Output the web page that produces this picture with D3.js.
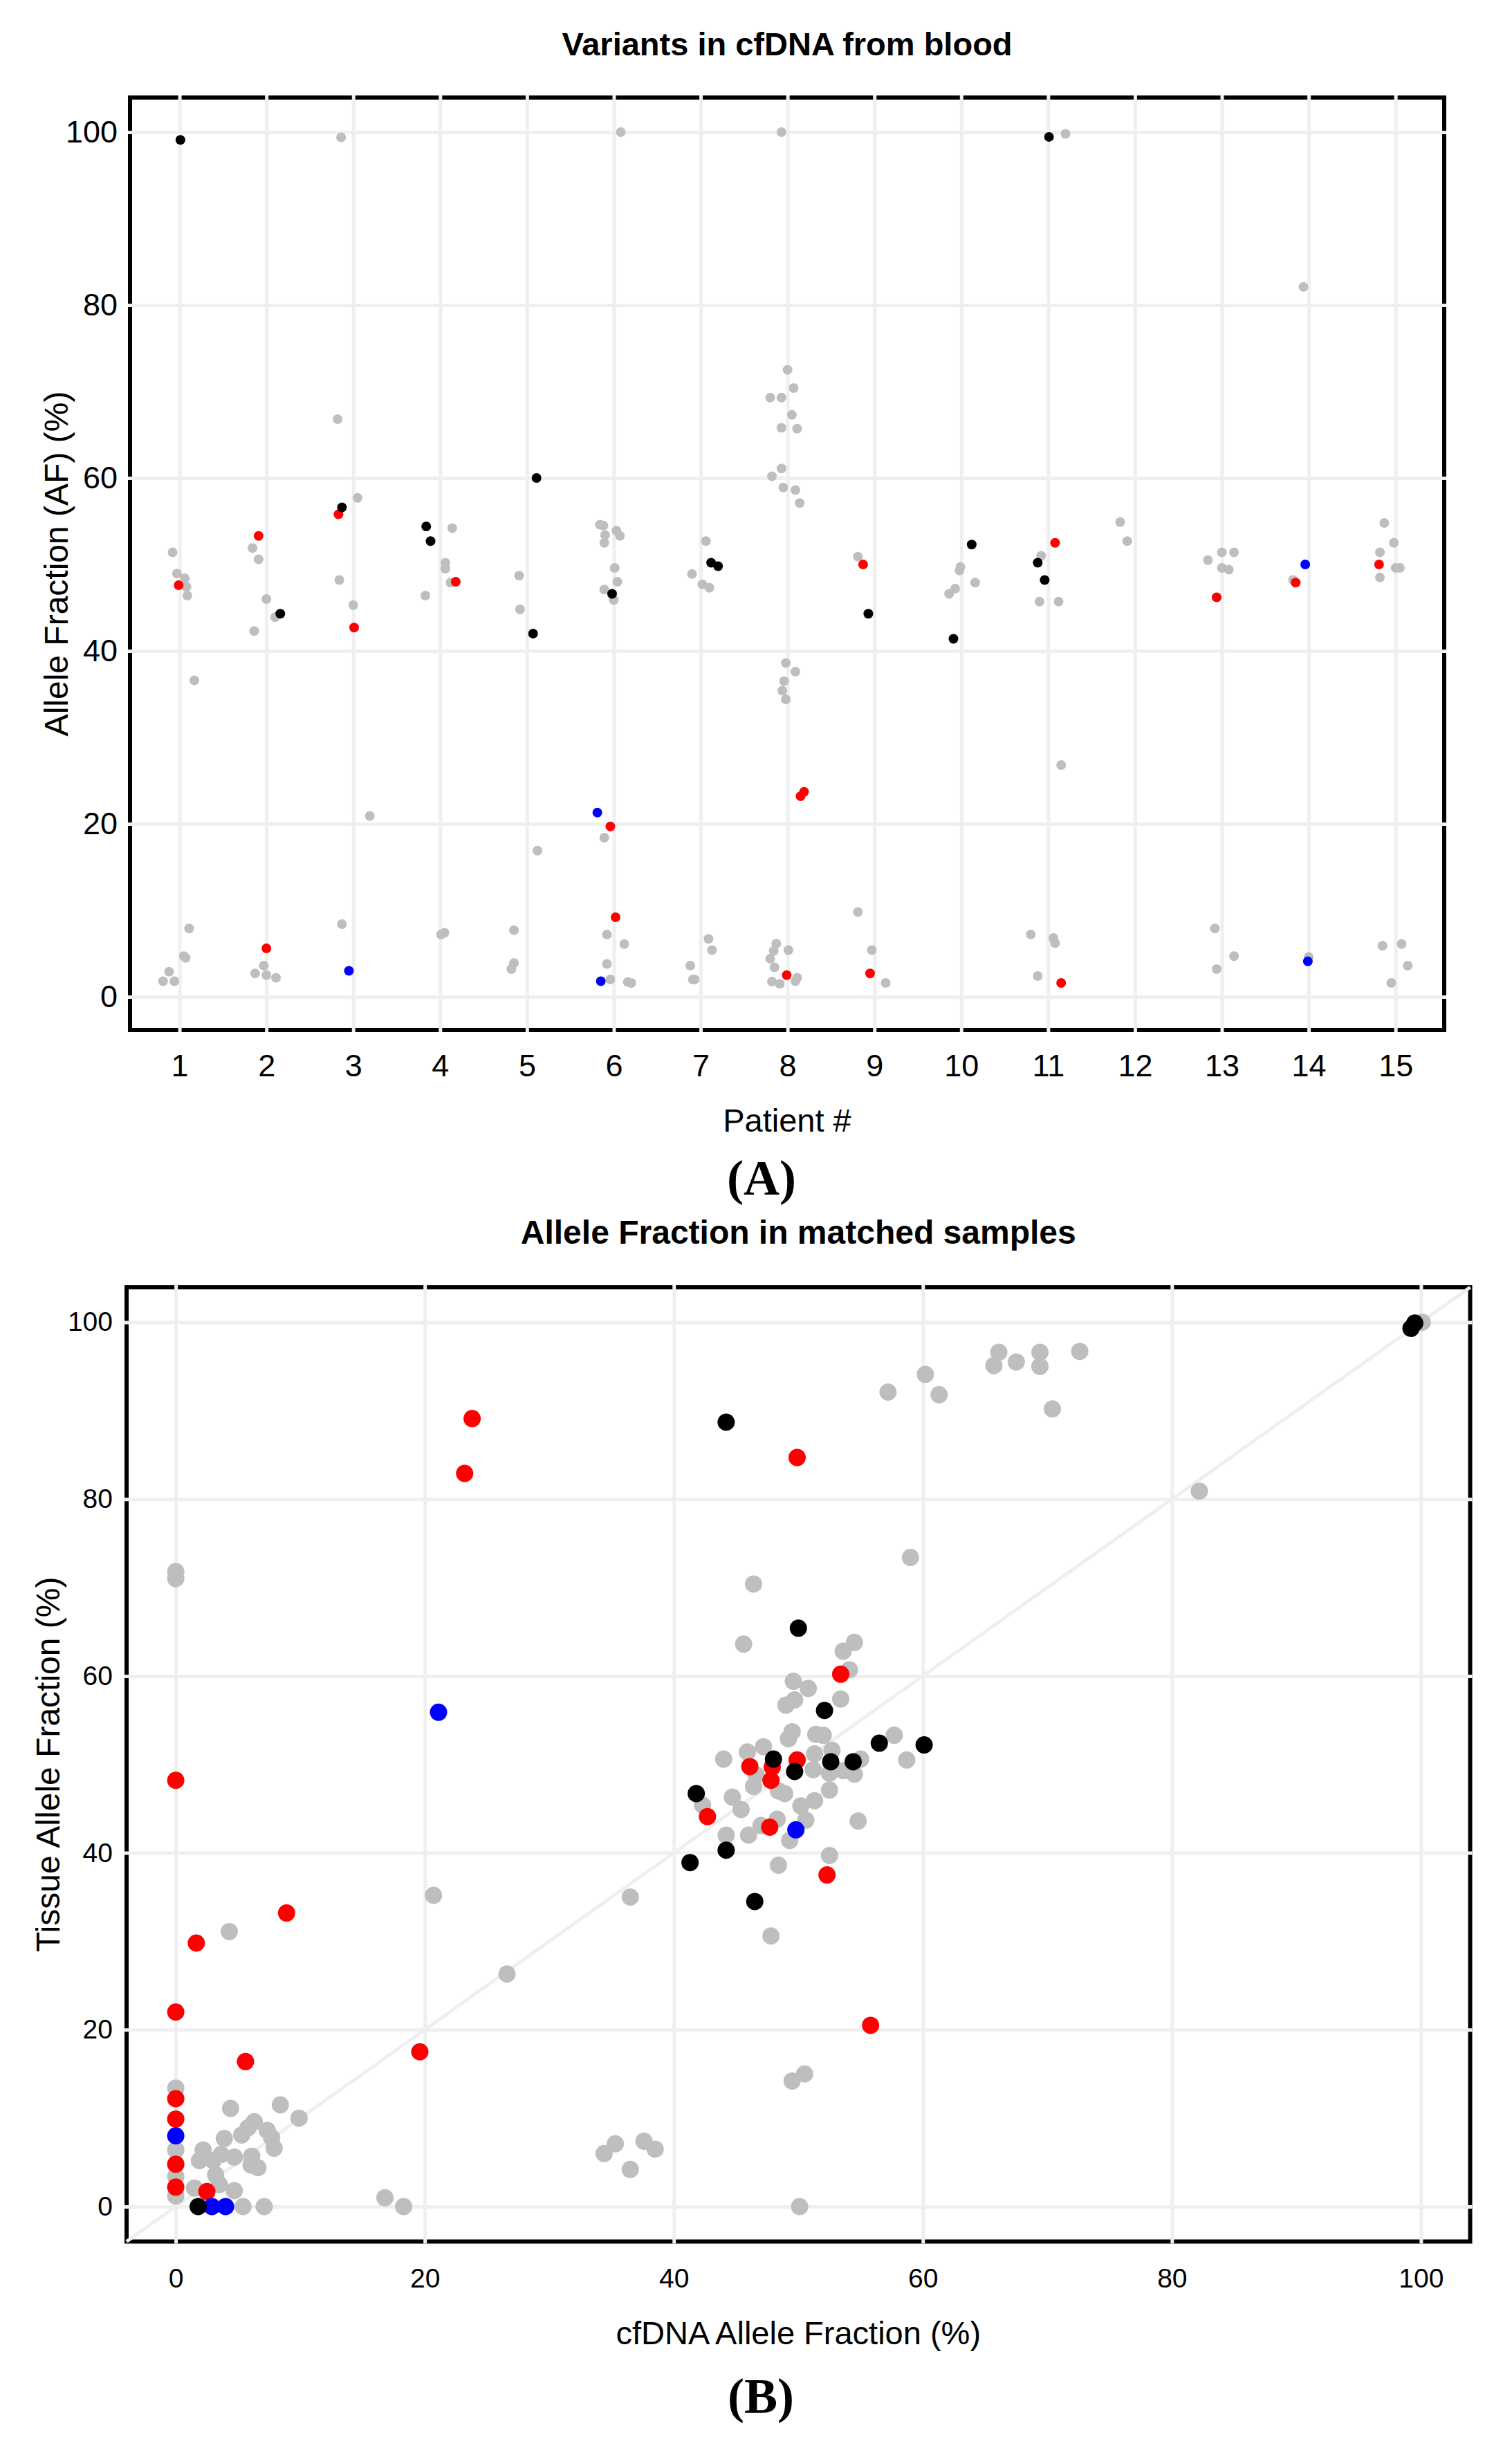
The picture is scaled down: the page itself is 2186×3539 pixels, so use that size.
<!DOCTYPE html>
<html>
<head>
<meta charset="utf-8">
<script src="https://d3js.org/d3.v7.min.js"></script>
<style>
  body { margin: 0; background: #fff; }
  .grid line { stroke: #efefef; stroke-width: 5; }
  .grid path, .ticks path { display: none; }
</style>
</head>
<body>
<div id="fig"></div>
<script>
// ---------- data ----------
const patients = d3.range(1, 16);
const afTicks = [0, 20, 40, 60, 80, 100];

// panel A: [patient (jittered), cfDNA allele fraction %]
const bloodGray = [
  [2.86, 99.4], [6.08, 100.0], [7.93, 100.0], [11.20, 99.8], [13.94, 82.1], [2.82, 66.8], [3.05, 57.7],
  [8.00, 72.5], [8.07, 70.4], [7.80, 69.3], [7.93, 69.3], [8.05, 67.3], [7.93, 65.8], [8.11, 65.7],
  [7.93, 61.1], [7.82, 60.2], [7.95, 58.9], [8.09, 58.6], [8.14, 57.1], [11.83, 54.9], [11.91, 52.7],
  [4.14, 54.2], [0.92, 51.4], [1.84, 51.9], [1.91, 50.6], [5.84, 54.6], [5.88, 54.5], [6.03, 53.9],
  [5.90, 53.4], [6.07, 53.3], [5.89, 52.5], [7.06, 52.7], [6.90, 48.9], [7.02, 47.7], [7.10, 47.3],
  [0.97, 48.95], [1.06, 48.4], [1.08, 47.4], [1.09, 46.4], [4.06, 50.2], [4.06, 49.5], [4.12, 47.9],
  [2.84, 48.2], [3.83, 46.4], [4.91, 48.7], [6.01, 49.6], [6.04, 48.0], [5.89, 47.1], [6.00, 45.9],
  [2.00, 46.0], [3.00, 45.3], [2.10, 43.9], [4.92, 44.8], [1.86, 42.3], [1.17, 36.6], [3.19, 20.9],
  [5.89, 18.4], [5.12, 16.9], [1.11, 7.9], [2.87, 8.4], [4.01, 7.2], [4.05, 7.4], [4.85, 7.7],
  [5.92, 7.2], [6.12, 6.1], [7.09, 6.7], [7.13, 5.4], [1.05, 4.7], [1.07, 4.5], [1.87, 2.7],
  [1.97, 3.6], [2.00, 2.5], [2.11, 2.2], [4.85, 3.9], [4.82, 3.2], [5.92, 3.8], [5.96, 2.0],
  [6.16, 1.7], [6.20, 1.6], [6.88, 3.6], [6.91, 2.0], [6.93, 2.0], [0.88, 2.9], [0.81, 1.8],
  [0.94, 1.8], [7.87, 6.15], [7.84, 5.3], [7.80, 4.4], [7.85, 3.4], [7.82, 1.76], [7.91, 1.5],
  [7.98, 38.6], [8.09, 37.6], [7.96, 36.5], [7.94, 35.4], [7.98, 34.4], [8.81, 50.9], [9.99, 49.7],
  [9.98, 49.3], [10.16, 47.9], [9.93, 47.2], [9.86, 46.6], [10.92, 51.0], [10.90, 45.7], [11.12, 45.7],
  [12.84, 50.5], [13.00, 51.4], [13.14, 51.4], [13.00, 49.6], [13.08, 49.4], [13.82, 48.2], [14.87, 54.8],
  [14.98, 52.5], [14.82, 51.4], [15.00, 49.6], [15.05, 49.6], [14.82, 48.5], [11.15, 26.8], [8.81, 9.8],
  [8.01, 5.4], [8.11, 2.2], [8.09, 1.8], [8.97, 5.4], [9.13, 1.6], [10.80, 7.2], [11.06, 6.8],
  [11.08, 6.2], [10.88, 2.4], [12.92, 7.9], [13.14, 4.7], [12.94, 3.2], [14.00, 4.6], [14.85, 5.9],
  [15.07, 6.1], [15.14, 3.6], [14.95, 1.6]
];
const bloodRed = [
  [2.83, 55.8], [1.91, 53.3], [0.99, 47.6], [4.18, 48.0], [3.01, 42.7], [5.96, 19.7], [6.02, 9.2],
  [2.00, 5.6], [7.99, 2.5], [11.08, 52.5], [8.87, 50.0], [12.94, 46.2], [13.85, 47.9], [14.81, 50.0],
  [8.19, 23.7], [8.15, 23.2], [8.95, 2.7], [11.15, 1.6]
];
const bloodBlue = [[5.81, 21.3], [2.95, 3.0], [5.85, 1.8], [13.96, 50.0], [13.99, 4.1]];
const bloodBlack = [
  [1.01, 99.1], [11.01, 99.45], [5.11, 60.0], [2.87, 56.6], [3.84, 54.4], [3.89, 52.7], [7.12, 50.2],
  [7.20, 49.8], [5.98, 46.6], [2.16, 44.3], [5.07, 42.0], [10.12, 52.3], [8.93, 44.3], [9.91, 41.4],
  [10.88, 50.2], [10.96, 48.2]
];

// panel B: [cfDNA allele fraction %, tissue allele fraction %]
const matchedGray = [
  [0, 71.8], [0, 71.0], [46.4, 70.4], [45.6, 63.6], [66.1, 96.6], [65.7, 95.1], [67.5, 95.5],
  [69.4, 96.6], [69.4, 95.0], [72.6, 96.7], [60.2, 94.1], [57.2, 92.1], [61.3, 91.8], [70.4, 90.2],
  [82.2, 80.9], [100.1, 100.0], [59.0, 73.4], [54.5, 63.8], [53.6, 62.8], [54.1, 60.7], [49.6, 59.4],
  [50.8, 58.6], [49.7, 57.3], [49.0, 56.7], [53.4, 57.4], [49.5, 53.7], [49.2, 52.9], [51.4, 53.4],
  [52.0, 53.3], [57.7, 53.3], [58.7, 50.5], [47.2, 52.0], [45.9, 51.4], [44.0, 50.6], [52.7, 51.6],
  [51.3, 51.2], [55.0, 50.6], [51.2, 49.4], [52.5, 49.0], [53.6, 49.3], [54.5, 48.9], [46.6, 48.8],
  [46.4, 47.5], [48.4, 47.0], [48.9, 46.7], [52.5, 47.1], [44.7, 46.3], [45.4, 44.9], [42.3, 45.4],
  [51.3, 45.9], [50.2, 45.3], [50.6, 43.7], [54.8, 43.6], [48.3, 43.8], [47.0, 43.1], [46.0, 42.0],
  [44.2, 42.0], [49.3, 41.4], [48.4, 38.6], [52.5, 39.7], [47.8, 30.6], [4.3, 31.1], [20.7, 35.2],
  [36.5, 35.0], [26.6, 26.3], [34.4, 6.0], [35.3, 7.1], [37.6, 7.4], [38.5, 6.5], [36.5, 4.2],
  [50.1, 0], [49.5, 14.2], [50.5, 15.0], [16.8, 1.0], [18.3, 0], [0, 13.4], [0, 6.4], [0, 3.4],
  [0, 1.2], [4.4, 11.1], [8.4, 11.5], [9.9, 10.0], [6.3, 9.6], [5.8, 8.9], [7.35, 8.6], [7.7, 7.8],
  [7.9, 6.6], [5.3, 8.1], [3.9, 7.7], [4.7, 5.6], [2.2, 6.4], [1.9, 5.2], [3.0, 5.2], [3.65, 5.9],
  [6.1, 5.7], [6.6, 4.4], [6.05, 4.7], [3.2, 3.6], [1.5, 2.1], [4.7, 1.8], [3.5, 2.5], [5.4, 0],
  [7.1, 0]
];
const matchedRed = [
  [23.8, 89.1], [23.2, 82.9], [49.9, 84.7], [53.4, 60.2], [49.9, 50.5], [46.1, 49.75], [47.9, 49.7],
  [47.8, 48.2], [42.7, 44.1], [47.7, 42.9], [52.3, 37.5], [55.8, 20.5], [0, 48.2], [1.65, 29.8],
  [8.9, 33.2], [0, 22.0], [19.6, 17.5], [5.6, 16.4], [0, 12.2], [0, 9.9], [0, 4.8], [0, 2.2],
  [2.5, 1.7]
];
const matchedBlue = [[21.1, 55.9], [49.8, 42.6], [0, 8.0], [2.9, 0], [4.0, 0]];
const matchedBlack = [
  [44.2, 88.7], [50.0, 65.4], [99.2, 99.3], [99.5, 99.9], [52.1, 56.1], [56.5, 52.4], [60.1, 52.2],
  [48.0, 50.6], [52.6, 50.3], [54.4, 50.3], [49.7, 49.2], [41.8, 46.7], [44.2, 40.3], [41.3, 38.9],
  [46.5, 34.5], [1.8, 0]
];

// ---------- drawing ----------
var W = 2186, H = 3539;
var sans = '"Liberation Sans", Arial, sans-serif';
var serif = '"Liberation Serif", "Times New Roman", serif';

var svg = d3.select("#fig").append("svg")
    .attr("width", W).attr("height", H)
    .style("background", "#fff");

function drawPanel(o) {
    var x = d3.scaleLinear().domain(o.xDomain).range([o.left, o.right]);
    var y = d3.scaleLinear().domain(o.yDomain).range([o.bottom, o.top]);
    var g = svg.append("g");

    // frame
    g.append("rect")
        .attr("x", o.left).attr("y", o.top)
        .attr("width", o.right - o.left).attr("height", o.bottom - o.top)
        .attr("fill", "#fff").attr("stroke", "#000").attr("stroke-width", 6);

    // grid (drawn over the frame, like the original)
    g.append("g").attr("class", "grid")
        .attr("transform", "translate(0," + (o.bottom + 3) + ")")
        .call(d3.axisBottom(x).tickValues(o.xTicks).tickSize(-(o.bottom - o.top + 6)).tickFormat(""));
    g.append("g").attr("class", "grid")
        .attr("transform", "translate(" + (o.left - 3) + ",0)")
        .call(d3.axisLeft(y).tickValues(afTicks).tickSize(-(o.right - o.left + 6)).tickFormat(""));

    if (o.diagonal) {
        var lo = Math.max(o.xDomain[0], o.yDomain[0]), hi = Math.min(o.xDomain[1], o.yDomain[1]);
        g.append("line")
            .attr("x1", x(lo)).attr("y1", y(lo))
            .attr("x2", x(hi)).attr("y2", y(hi))
            .attr("stroke", "#efefef").attr("stroke-width", 5);
    }

    // points: gray first, coloured ones on top
    o.series.forEach(function(s) {
        g.append("g").selectAll("circle")
            .data(s.data)
            .enter().append("circle")
            .attr("cx", function(d) { return x(d[0]); })
            .attr("cy", function(d) { return y(d[1]); })
            .attr("r", o.r)
            .attr("fill", s.color);
    });

    // tick labels
    var ax = g.append("g").attr("class", "ticks")
        .attr("transform", "translate(0," + o.bottom + ")")
        .call(d3.axisBottom(x).tickValues(o.xTicks).tickSize(0).tickPadding(o.xPad));
    var ay = g.append("g").attr("class", "ticks")
        .attr("transform", "translate(" + o.left + ",0)")
        .call(d3.axisLeft(y).tickValues(afTicks).tickSize(0).tickPadding(o.yPad));
    [ax, ay].forEach(function(a) {
        a.attr("font-size", o.tickSize).attr("font-family", sans);
        a.selectAll("text").attr("fill", "#000");
    });

    // titles
    var cx = (o.left + o.right) / 2, cy = (o.top + o.bottom) / 2;
    g.append("text").attr("x", cx).attr("y", o.titleY)
        .attr("text-anchor", "middle").attr("font-family", sans)
        .attr("font-weight", "bold").attr("font-size", o.titleSize).text(o.title);
    g.append("text").attr("x", cx).attr("y", o.xLabelY)
        .attr("text-anchor", "middle").attr("font-family", sans)
        .attr("font-size", 47).text(o.xLabel);
    g.append("text")
        .attr("transform", "translate(" + o.yLabelX + "," + cy + ") rotate(-90)")
        .attr("text-anchor", "middle").attr("font-family", sans)
        .attr("font-size", 48).text(o.yLabel);
    g.append("text").attr("x", o.tagX).attr("y", o.tagY)
        .attr("text-anchor", "middle").attr("font-family", serif)
        .attr("font-weight", "bold").attr("font-size", 72).text(o.tag);
}

drawPanel({
    left: 188, right: 2088, top: 141, bottom: 1489,
    xDomain: [0.43, 15.56], yDomain: [-3.84, 104],
    xTicks: patients, r: 7,
    tickSize: 45, xPad: 35, yPad: 18,
    series: [
        { data: bloodGray, color: "#bebebe" },
        { data: bloodRed, color: "#ff0000" },
        { data: bloodBlue, color: "#0000ff" },
        { data: bloodBlack, color: "#000000" }
    ],
    title: "Variants in cfDNA from blood", titleY: 80, titleSize: 47,
    xLabel: "Patient #", xLabelY: 1636,
    yLabel: "Allele Fraction (AF) (%)", yLabelX: 98,
    tag: "(A)", tagX: 1101, tagY: 1727
});

drawPanel({
    left: 183, right: 2125.5, top: 1861, bottom: 3240.5,
    xDomain: [-3.95, 103.95], yDomain: [-3.95, 103.95],
    xTicks: afTicks, r: 12.5, diagonal: true,
    tickSize: 39, xPad: 39, yPad: 20,
    series: [
        { data: matchedGray, color: "#bebebe" },
        { data: matchedRed, color: "#ff0000" },
        { data: matchedBlue, color: "#0000ff" },
        { data: matchedBlack, color: "#000000" }
    ],
    title: "Allele Fraction in matched samples", titleY: 1798, titleSize: 48,
    xLabel: "cfDNA Allele Fraction (%)", xLabelY: 3389,
    yLabel: "Tissue Allele Fraction (%)", yLabelX: 86,
    tag: "(B)", tagX: 1100, tagY: 3488
});
</script>
</body>
</html>
